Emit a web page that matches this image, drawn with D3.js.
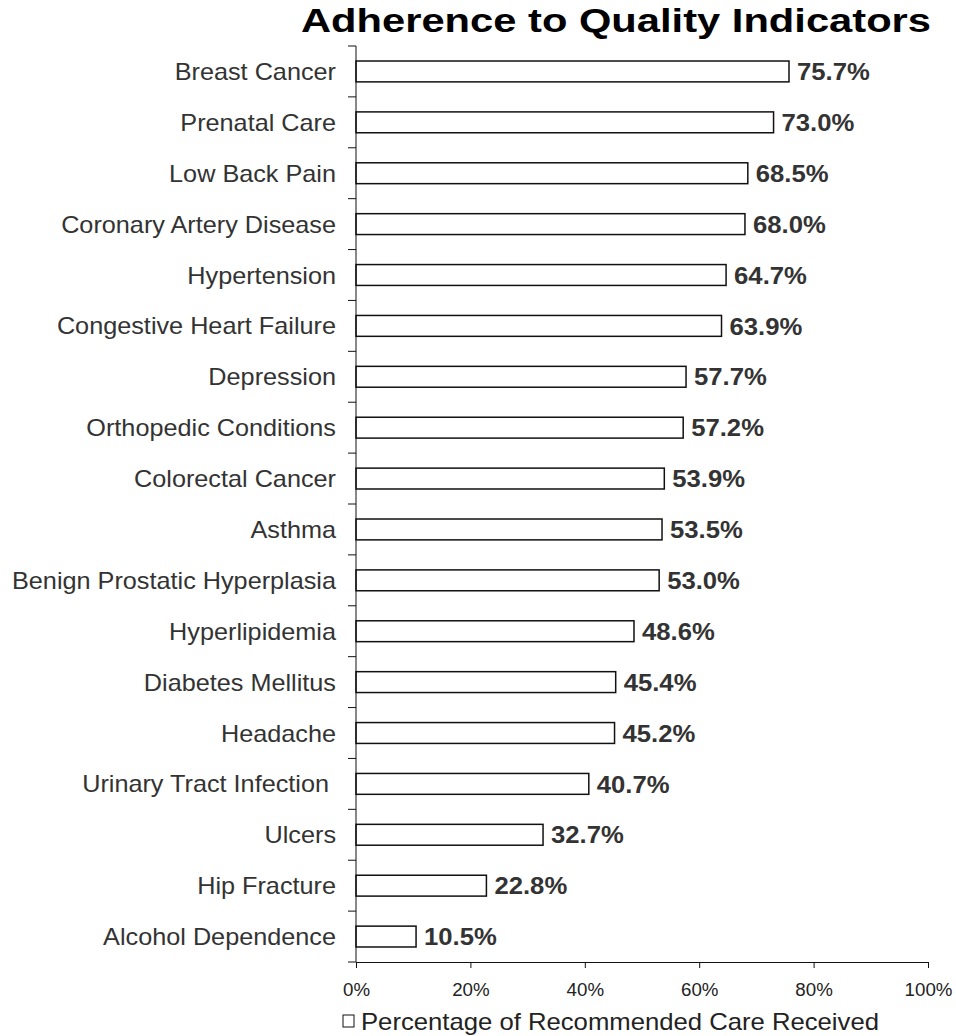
<!DOCTYPE html>
<html>
<head>
<meta charset="utf-8">
<script src="https://cdn.jsdelivr.net/npm/d3@7"></script>
<style>
  body { margin: 0; background: #fff; }
  svg { display: block; font-family: "Liberation Sans", Arial, sans-serif; }
</style>
</head>
<body>
<svg id="chart" width="956" height="1036"></svg>
<script>
// data
const categories = [
  "Breast Cancer", "Prenatal Care", "Low Back Pain", "Coronary Artery Disease",
  "Hypertension", "Congestive Heart Failure", "Depression", "Orthopedic Conditions",
  "Colorectal Cancer", "Asthma", "Benign Prostatic Hyperplasia", "Hyperlipidemia",
  "Diabetes Mellitus", "Headache", "Urinary Tract Infection ", "Ulcers",
  "Hip Fracture", "Alcohol Dependence"
];
const values = [75.7, 73.0, 68.5, 68.0, 64.7, 63.9, 57.7, 57.2, 53.9, 53.5, 53.0, 48.6, 45.4, 45.2, 40.7, 32.7, 22.8, 10.5];
const xTicks = [0, 20, 40, 60, 80, 100];
const seriesName = "Percentage of Recommended Care Received";

const svg = d3.select("#chart");
const plotLeft = 356, plotRight = 928, plotTop = 46, plotBottom = 962;
// the picture's text is slightly wider than plain Arial
const stretch = 1.07;

const x = d3.scaleLinear().domain([0, 100]).range([plotLeft, plotRight]);
const y = d3.scaleBand().domain(categories).range([plotTop, plotBottom]).paddingInner(0.59).paddingOuter(0.295);

// title
svg.append("text")
  .attr("x", 616).attr("y", 32)
  .attr("text-anchor", "middle")
  .attr("font-size", 34).attr("font-weight", "bold").attr("fill", "#000")
  .attr("textLength", 630).attr("lengthAdjust", "spacingAndGlyphs")
  .text("Adherence to Quality Indicators");

// bars
svg.append("g").selectAll("rect")
  .data(values)
  .join("rect")
  .attr("x", x(0))
  .attr("y", (d, i) => y(categories[i]))
  .attr("width", d => x(d) - x(0))
  .attr("height", y.bandwidth())
  .attr("fill", "#fff")
  .attr("stroke", "#111")
  .attr("stroke-width", 1.5);

// value labels
svg.append("g").selectAll("text")
  .data(values)
  .join("text")
  .attr("transform", (d, i) => `translate(${x(d) + 8},${y(categories[i]) + y.bandwidth() / 2}) scale(${stretch},1)`)
  .attr("dy", "0.36em")
  .attr("font-size", 24).attr("font-weight", "bold").attr("fill", "#333")
  .text(d => d.toFixed(1) + "%");

// y axis: line + ticks between categories
const step = (plotBottom - plotTop) / categories.length;
const yAxis = svg.append("g");
yAxis.append("line")
  .attr("x1", plotLeft).attr("x2", plotLeft).attr("y1", plotTop).attr("y2", plotBottom)
  .attr("stroke", "#111");
yAxis.selectAll("line.tick")
  .data(d3.range(categories.length + 1))
  .join("line")
  .attr("class", "tick")
  .attr("x1", plotLeft - 8).attr("x2", plotLeft)
  .attr("y1", i => plotTop + i * step).attr("y2", i => plotTop + i * step)
  .attr("stroke", "#111");
yAxis.selectAll("text")
  .data(categories)
  .join("text")
  .attr("transform", d => `translate(${plotLeft - 20},${y(d) + y.bandwidth() / 2}) scale(${stretch},1)`)
  .attr("dy", "0.36em")
  .attr("text-anchor", "end")
  .attr("font-size", 23.6).attr("fill", "#333")
  .style("white-space", "pre")
  .text(d => d);

// x axis
const xAxis = svg.append("g")
  .attr("transform", `translate(0,${plotBottom})`)
  .call(d3.axisBottom(x).tickValues(xTicks).tickSize(6).tickSizeOuter(0).tickPadding(16).tickFormat(d => d + "%"));
xAxis.select(".domain").attr("stroke", "#111");
xAxis.selectAll(".tick line").attr("stroke", "#111");
xAxis.selectAll(".tick text")
  .attr("font-family", "Liberation Sans, Arial, sans-serif")
  .attr("font-size", 17.5).attr("fill", "#222")
  .attr("transform", `scale(${stretch},1)`);

// legend
const legend = svg.append("g").attr("transform", "translate(343,1021)");
legend.append("rect")
  .attr("x", 0).attr("y", -6).attr("width", 11).attr("height", 12)
  .attr("fill", "#fff").attr("stroke", "#111");
legend.append("text")
  .attr("transform", `translate(18,0) scale(${stretch},1)`)
  .attr("dy", "0.36em")
  .attr("font-size", 24).attr("fill", "#222")
  .text(seriesName);
</script>
</body>
</html>
